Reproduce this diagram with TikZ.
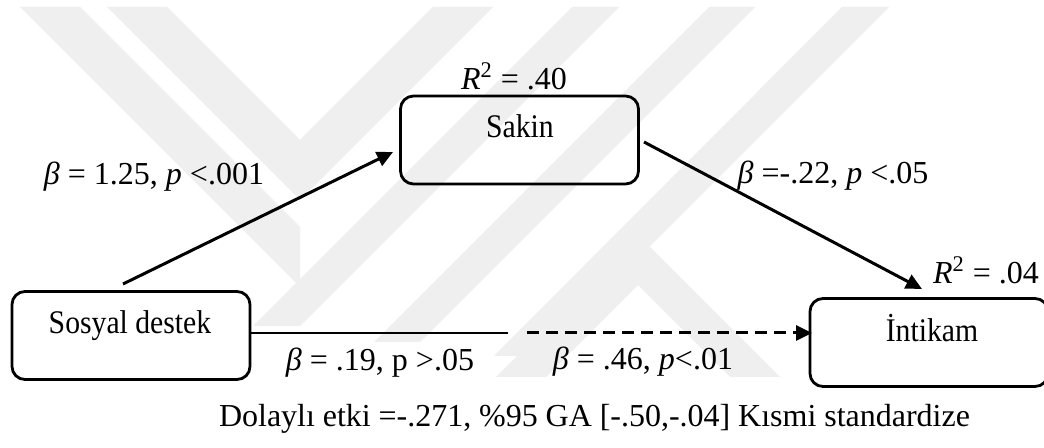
\documentclass[tikz,border=0pt]{standalone}
\usepackage{fontspec}
\setmainfont{Liberation Serif}
\newfontfamily\boxfont{Liberation Serif}[FakeStretch=0.9]
\usetikzlibrary{arrows.meta}
\definecolor{wm}{HTML}{EFEFEF}
\tikzset{
  box/.style={draw=black, line width=1.4pt, rounded corners=6.5pt, minimum width=119pt, minimum height=44pt, inner sep=0pt},
  boxtext/.style={font=\boxfont\fontsize{16.5}{19}\selectfont, inner sep=0pt, anchor=base},
  lbl/.style={font=\fontsize{16}{19}\selectfont, inner sep=0pt, anchor=base},
  conn/.style={line width=1.5pt, -{Triangle[length=8pt,width=7.5pt]}},
  direct/.style={line width=0.8pt},
  dashconn/.style={line width=1.5pt, dash pattern=on 6pt off 3.5pt, -{Triangle[length=8pt,width=7.5pt]}},
  wmark/.style={fill=wm, draw=none}
}
\begin{document}
\begin{tikzpicture}[x=0.5pt,y=-0.5pt]
\useasboundingbox (0,0) rectangle (1044,448);
\fill[white] (0,0) rectangle (1044,448);
% watermark (approximate)
\fill[wmark] (107,7) -- (167,7) -- (300,140) -- (433,7) -- (493,7) -- (300,200) -- cycle;
\fill[wmark] (20,7) -- (80,7) -- (300,227) -- (300,287) -- cycle;
\fill[wmark] (572,7) -- (619,7) -- (300,326) -- (253,326) -- cycle;
\fill[wmark] (709,7) -- (755,7) -- (420,342) -- (374,342) -- cycle;
\fill[wmark] (842,7) -- (889,7) -- (540,356) -- (494,356) -- cycle;
\fill[wmark] (638,235) -- (780,377) -- (730,377) -- (638,285) -- (546,377) -- (496,377) -- cycle;
% boxes
\node[box] (sd) at (131,335.5) {};
\node[box] (sk) at (519.5,140) {};
\node[box] (ik) at (929,342.5) {};
\node[boxtext] (sdt) at (130,334) {Sosyal destek};
\node[boxtext] (skt) at (520,138) {Sakin};
\node[boxtext] (ikt) at (932,342) {İntikam};
% R squared
\node[lbl] (r1) at (514,90) {\textit{R}\textsuperscript{2} = .40};
\node[lbl] (r2) at (986,284) {\textit{R}\textsuperscript{2} = .04};
% path labels
\node[lbl] (l1) at (154,185) {\textit{β} = 1.25, \textit{p} <.001};
\node[lbl] (l2) at (833,184) {\textit{β} =-.22, \textit{p} <.05};
\node[lbl] (l3) at (380,371) {\textit{β} = .19, p >.05};
\node[lbl] (l4) at (643,370) {\textit{β} = .46, \textit{p}<.01};
\node[lbl] (note) at (594.5,427) {\makebox[375.5pt][s]{Dolaylı etki =-.271, \%95 GA [-.50,-.04] Kısmi standardize}};
% connector end points
\coordinate (a1s) at (123,284);
\coordinate (a1e) at (393,152);
\coordinate (a2s) at (644,142);
\coordinate (a2e) at (922,289);
\coordinate (ds) at (sd.east |- 0,333);
\coordinate (de) at (508,333);
\coordinate (ids) at (527,333);
\coordinate (ide) at (812,333);
% connectors
\draw[conn] (a1s) -- (a1e);
\draw[conn] (a2s) -- (a2e);
\draw[direct] (ds) -- (de);
\draw[dashconn] (ids) -- (ide);
\end{tikzpicture}
\end{document}
